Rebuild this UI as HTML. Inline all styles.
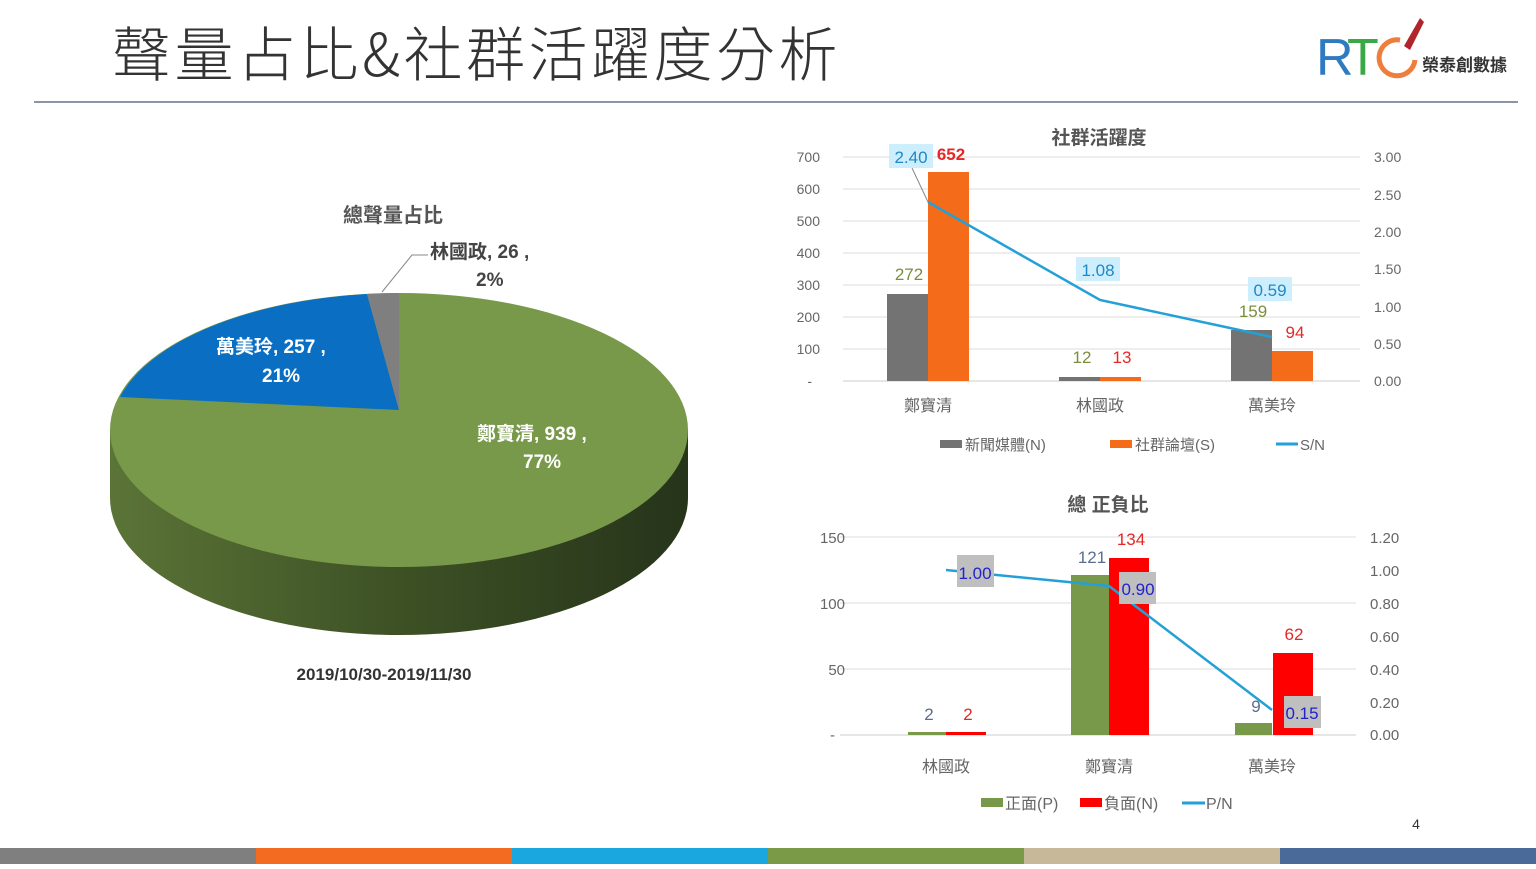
<!DOCTYPE html>
<html><head><meta charset="utf-8"><style>
html,body{margin:0;padding:0;background:#fff}
svg text{font-family:"Liberation Sans","Noto Sans CJK TC",sans-serif}
</style></head><body>
<svg width="1536" height="864" viewBox="0 0 1536 864" xmlns="http://www.w3.org/2000/svg">
<defs>
<linearGradient id="side" x1="0" x2="1" y1="0" y2="0">
<stop offset="0" stop-color="#5b7437"/><stop offset="0.5" stop-color="#3d5125"/><stop offset="1" stop-color="#26341a"/>
</linearGradient>
</defs>
<rect width="1536" height="864" fill="#fff"/>
<text x="112" y="76" font-size="59" fill="#333" letter-spacing="3.5" style="font-family:'Noto Sans CJK TC',sans-serif;font-weight:300">聲量占比&amp;社群活躍度分析</text>
<line x1="34" y1="102" x2="1518" y2="102" stroke="#8796a8" stroke-width="2"/>
<!-- logo -->
<text x="1316" y="75" font-size="52" fill="#2e7bbf">R</text>
<text x="1347" y="75" font-size="52" fill="#3aa845">T</text>
<path d="M1400 40 A18 18 0 1 0 1415 60" fill="none" stroke="#ef7d3c" stroke-width="5"/>
<path d="M1404 46 L1420 18 L1424 22 L1410 50 Z" fill="#b2242c"/>
<text x="1422" y="71" font-size="17" font-weight="bold" fill="#333">榮泰創數據</text>
<!-- pie -->
<text x="343" y="222" font-size="20" font-weight="bold" fill="#555">總聲量占比</text>
<path d="M110 430 L110 498 A289 137 0 0 0 688 498 L688 430 Z" fill="url(#side)"/>
<ellipse cx="399" cy="430" rx="289" ry="137" fill="#78984a"/>
<path d="M399 410 L120 397 A289 137 0 0 1 367 294 Z" fill="#0a6fc2"/>
<path d="M399 410 L367 294 A289 137 0 0 1 399 293 Z" fill="#7f7f7f"/>
<polyline points="382,292 412,255 428,255" fill="none" stroke="#888" stroke-width="1"/>
<text x="430" y="258" font-size="19" font-weight="bold" fill="#444">林國政, 26 ,</text>
<text x="476" y="286" font-size="19" font-weight="bold" fill="#444">2%</text>
<text x="216" y="353" font-size="19" font-weight="bold" fill="#fff">萬美玲, 257 ,</text>
<text x="262" y="382" font-size="19" font-weight="bold" fill="#fff">21%</text>
<text x="477" y="440" font-size="19" font-weight="bold" fill="#fff">鄭寶清, 939 ,</text>
<text x="523" y="468" font-size="19" font-weight="bold" fill="#fff">77%</text>
<text x="384" y="680" font-size="17" font-weight="bold" fill="#333" text-anchor="middle">2019/10/30-2019/11/30</text>
<!-- chart 1 -->
<text x="1099" y="144" font-size="19" font-weight="bold" fill="#555" text-anchor="middle">社群活躍度</text>
<g stroke="#ddd" stroke-width="1">
<line x1="843" x2="1360" y1="157" y2="157"/><line x1="843" x2="1360" y1="189" y2="189"/><line x1="843" x2="1360" y1="221" y2="221"/><line x1="843" x2="1360" y1="253" y2="253"/><line x1="843" x2="1360" y1="285" y2="285"/><line x1="843" x2="1360" y1="317" y2="317"/><line x1="843" x2="1360" y1="349" y2="349"/><line x1="843" x2="1360" y1="381" y2="381" stroke="#ccc"/>
</g>
<g font-size="14" fill="#666" text-anchor="end">
<text x="820" y="162">700</text><text x="820" y="194">600</text><text x="820" y="226">500</text><text x="820" y="258">400</text><text x="820" y="290">300</text><text x="820" y="322">200</text><text x="820" y="354">100</text><text x="812" y="386">-</text>
</g>
<g font-size="14" fill="#666">
<text x="1374" y="162">3.00</text><text x="1374" y="200">2.50</text><text x="1374" y="237">2.00</text><text x="1374" y="274">1.50</text><text x="1374" y="312">1.00</text><text x="1374" y="349">0.50</text><text x="1374" y="386">0.00</text>
</g>
<rect x="887" y="294" width="41" height="87" fill="#737373"/>
<rect x="928" y="172" width="41" height="209" fill="#f46b1a"/>
<rect x="1059" y="377" width="41" height="4" fill="#737373"/>
<rect x="1100" y="377" width="41" height="4" fill="#f46b1a"/>
<rect x="1231" y="330" width="41" height="51" fill="#737373"/>
<rect x="1272" y="351" width="41" height="30" fill="#f46b1a"/>
<polyline points="928,202 1100,300 1272,337" fill="none" stroke="#23a0d6" stroke-width="2.5"/>
<line x1="912" y1="168" x2="928" y2="202" stroke="#888"/>
<rect x="889" y="144" width="44" height="24" fill="#cdeefc"/>
<rect x="1076" y="257" width="44" height="24" fill="#cdeefc"/>
<rect x="1248" y="277" width="44" height="24" fill="#cdeefc"/>
<g font-size="17">
<text x="911" y="163" fill="#1e88c8" text-anchor="middle">2.40</text>
<text x="1098" y="276" fill="#1e88c8" text-anchor="middle">1.08</text>
<text x="1270" y="296" fill="#1e88c8" text-anchor="middle">0.59</text>
<text x="951" y="160" fill="#e52727" text-anchor="middle" font-weight="bold">652</text>
<text x="909" y="280" fill="#7a8f3a" text-anchor="middle">272</text>
<text x="1082" y="363" fill="#7a8f3a" text-anchor="middle">12</text>
<text x="1122" y="363" fill="#e52727" text-anchor="middle">13</text>
<text x="1253" y="317" fill="#7a8f3a" text-anchor="middle">159</text>
<text x="1295" y="338" fill="#e52727" text-anchor="middle">94</text>
</g>
<g font-size="16" fill="#666" text-anchor="middle">
<text x="928" y="411">鄭寶清</text><text x="1100" y="411">林國政</text><text x="1272" y="411">萬美玲</text>
</g>
<rect x="940" y="440" width="22" height="8" fill="#737373"/>
<text x="965" y="450" font-size="15" fill="#666">新聞媒體(N)</text>
<rect x="1110" y="440" width="22" height="8" fill="#f46b1a"/>
<text x="1135" y="450" font-size="15" fill="#666">社群論壇(S)</text>
<line x1="1276" y1="444" x2="1298" y2="444" stroke="#23a0d6" stroke-width="3"/>
<text x="1300" y="450" font-size="15" fill="#666">S/N</text>
<!-- chart 2 -->
<text x="1108" y="511" font-size="19" font-weight="bold" fill="#555" text-anchor="middle">總 正負比</text>
<g stroke="#ddd">
<line x1="840" x2="1356" y1="537" y2="537"/><line x1="840" x2="1356" y1="603" y2="603"/><line x1="840" x2="1356" y1="669" y2="669"/><line x1="840" x2="1356" y1="735" y2="735" stroke="#ccc"/>
</g>
<g font-size="15" fill="#666" text-anchor="end">
<text x="845" y="543">150</text><text x="845" y="609">100</text><text x="845" y="675">50</text><text x="835" y="740">-</text>
</g>
<g font-size="15" fill="#666">
<text x="1370" y="543">1.20</text><text x="1370" y="576">1.00</text><text x="1370" y="609">0.80</text><text x="1370" y="642">0.60</text><text x="1370" y="675">0.40</text><text x="1370" y="708">0.20</text><text x="1370" y="740">0.00</text>
</g>
<rect x="908" y="732" width="38" height="3" fill="#78984a"/>
<rect x="946" y="732" width="40" height="3" fill="#ff0000"/>
<rect x="1071" y="575" width="38" height="160" fill="#78984a"/>
<rect x="1109" y="558" width="40" height="177" fill="#ff0000"/>
<rect x="1235" y="723" width="37" height="12" fill="#78984a"/>
<rect x="1273" y="653" width="40" height="82" fill="#ff0000"/>
<polyline points="946,570 1109,586 1272,710" fill="none" stroke="#23a0d6" stroke-width="2.5"/>
<rect x="957" y="555" width="37" height="32" fill="#bfbfbf"/>
<rect x="1119" y="572" width="37" height="32" fill="#bfbfbf"/>
<rect x="1284" y="696" width="37" height="32" fill="#bfbfbf"/>
<g font-size="17">
<text x="975" y="579" fill="#2222cc" text-anchor="middle">1.00</text>
<text x="1138" y="595" fill="#2222cc" text-anchor="middle">0.90</text>
<text x="1302" y="719" fill="#2222cc" text-anchor="middle">0.15</text>
<text x="929" y="720" fill="#5a6e8e" text-anchor="middle">2</text>
<text x="968" y="720" fill="#e52727" text-anchor="middle">2</text>
<text x="1092" y="563" fill="#5a6e8e" text-anchor="middle">121</text>
<text x="1131" y="545" fill="#e52727" text-anchor="middle">134</text>
<text x="1256" y="712" fill="#5a6e8e" text-anchor="middle">9</text>
<text x="1294" y="640" fill="#e52727" text-anchor="middle">62</text>
</g>
<g font-size="16" fill="#666" text-anchor="middle">
<text x="946" y="772">林國政</text><text x="1109" y="772">鄭寶清</text><text x="1272" y="772">萬美玲</text>
</g>
<rect x="981" y="798" width="22" height="9" fill="#78984a"/>
<text x="1005" y="809" font-size="16" fill="#666">正面(P)</text>
<rect x="1080" y="798" width="22" height="9" fill="#ff0000"/>
<text x="1104" y="809" font-size="16" fill="#666">負面(N)</text>
<line x1="1182" y1="803" x2="1205" y2="803" stroke="#23a0d6" stroke-width="3"/>
<text x="1206" y="809" font-size="16" fill="#666">P/N</text>
<text x="1416" y="829" font-size="14" fill="#333" text-anchor="middle">4</text>
<!-- bottom stripe -->
<rect x="0" y="848" width="256" height="16" fill="#7f7f7f"/>
<rect x="256" y="848" width="256" height="16" fill="#f26b21"/>
<rect x="512" y="848" width="256" height="16" fill="#1aa7e0"/>
<rect x="768" y="848" width="256" height="16" fill="#7a9a47"/>
<rect x="1024" y="848" width="256" height="16" fill="#c8b89a"/>
<rect x="1280" y="848" width="256" height="16" fill="#4a6a9a"/>
</svg>
</body></html>
